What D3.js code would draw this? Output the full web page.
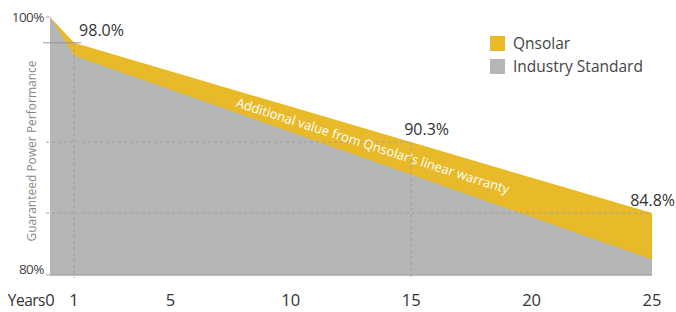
<!DOCTYPE html>
<html><head><meta charset="utf-8">
<script src="https://cdn.jsdelivr.net/npm/d3@7"></script>
<style>body{margin:0;background:#fff}svg{display:block}text{font-family:"Open Sans",Lato,sans-serif}</style>
</head><body><svg id="c" width="676" height="312"></svg>
<script>
const years = [0, 1, 25];
const qnsolar = [100, 98.0, 84.8];
const industry = [100, 97.0, 81.2];
const xTicks = [0, 1, 5, 10, 15, 20, 25];
const markers = [{year: 1, value: 98.0, label: "98.0%"}, {year: 15, value: 90.3, label: "90.3%"}, {year: 25, value: 84.8, label: "84.8%"}];
const seriesNames = ["Qnsolar", "Industry Standard"];
const colors = ["#E8BA2A", "#B5B6B6"];

const svg = d3.select("#c");
const x = d3.scaleLinear().domain([0, 25]).range([50, 652]);
const y = d3.scaleLinear().domain([80, 100]).range([275, 17]);
const ptsQ = years.map((d, i) => [d, qnsolar[i]]);
const ptsI = years.map((d, i) => [d, industry[i]]);
const area = d3.area().x(d => x(d[0])).y0(y(80)).y1(d => y(d[1]));

svg.append("path").attr("d", area(ptsQ)).attr("fill", colors[0]);
svg.append("path").attr("d", area(ptsI)).attr("fill", colors[1]);

// baseline
svg.append("line").attr("x1", x(0)).attr("x2", x(25)).attr("y1", y(80)).attr("y2", y(80)).attr("stroke", "#a9a9a9").attr("stroke-width", 1.5);
svg.append("line").attr("x1", x(0) - 4).attr("x2", x(0)).attr("y1", y(100)).attr("y2", y(100)).attr("stroke", "#aaa");
svg.append("line").attr("x1", x(0) - 4).attr("x2", x(0)).attr("y1", y(80)).attr("y2", y(80)).attr("stroke", "#aaa");

// reference lines
const dash = "3,3";
svg.append("line").attr("x1", x(0) - 7).attr("x2", x(1) + 7).attr("y1", y(98)).attr("y2", y(98)).attr("stroke", "#999").attr("stroke-width", 1);
svg.append("line").attr("x1", x(1)).attr("x2", x(1)).attr("y1", y(98)).attr("y2", y(80) + 3).attr("stroke", "#a0a0a0").attr("stroke-dasharray", dash);
svg.append("line").attr("x1", x(0) - 4).attr("x2", x(15)).attr("y1", y(90.3)).attr("y2", y(90.3)).attr("stroke", "#a0a0a0").attr("stroke-dasharray", dash);
svg.append("line").attr("x1", x(15)).attr("x2", x(15)).attr("y1", y(90.3)).attr("y2", y(80) + 3).attr("stroke", "#a0a0a0").attr("stroke-dasharray", dash);
svg.append("line").attr("x1", x(0) - 4).attr("x2", x(25)).attr("y1", y(84.8)).attr("y2", y(84.8)).attr("stroke", "#a0a0a0").attr("stroke-dasharray", dash);

// y labels
svg.append("text").attr("x", 44).attr("y", y(100) + 5).attr("text-anchor", "end").attr("font-size", 13.5).attr("fill", "#444").attr("letter-spacing", -0.5).text("100%");
svg.append("text").attr("x", 44).attr("y", y(80) - 1).attr("text-anchor", "end").attr("font-size", 13.5).attr("fill", "#444").attr("letter-spacing", -0.5).text("80%");
svg.append("text").attr("transform", `translate(36,151) rotate(-90)`).attr("text-anchor", "middle").attr("font-size", 12).attr("fill", "#888").text("Guaranteed Power Performance");

// x labels
svg.selectAll(".xt").data(xTicks).join("text").attr("x", d => x(d)).attr("y", 306).attr("text-anchor", "middle").attr("font-size", 16.5).attr("fill", "#333").text(d => d);
svg.append("text").attr("x", 45).attr("y", 306).attr("text-anchor", "end").attr("font-size", 15.5).attr("fill", "#333").attr("letter-spacing", -0.5).text("Years");

// value labels
svg.selectAll(".vl").data(markers).join("text")
  .attr("x", d => d.year === 1 ? x(d.year) + 5 : (d.year === 25 ? 675 : x(d.year) - 7))
  .attr("text-anchor", d => d.year === 25 ? "end" : "start")
  .attr("y", d => y(d.value) - 7)
  .attr("font-size", 16).attr("fill", "#333").text(d => d.label);

// annotation
const ay = 13.4, mid = (97 + (industry[2] - 97) * (ay - 1) / 24 + 98 + (qnsolar[2] - 98) * (ay - 1) / 24) / 2;
svg.append("text").attr("transform", `translate(${x(ay)},${y(mid)}) rotate(17.8)`).attr("text-anchor", "middle").attr("dy", "0.35em")
  .attr("font-size", 13).attr("fill", "#fff").text("Additional value from Qnsolar's linear warranty");

// legend
const lg = svg.append("g").attr("transform", "translate(490,36)");
seriesNames.forEach((n, i) => {
  lg.append("rect").attr("x", 0).attr("y", i * 23).attr("width", 15).attr("height", 15).attr("fill", colors[i]);
  lg.append("text").attr("x", 23).attr("y", i * 23 + 13).attr("font-size", 15.5).attr("fill", "#444").text(n);
});
</script></body></html>
